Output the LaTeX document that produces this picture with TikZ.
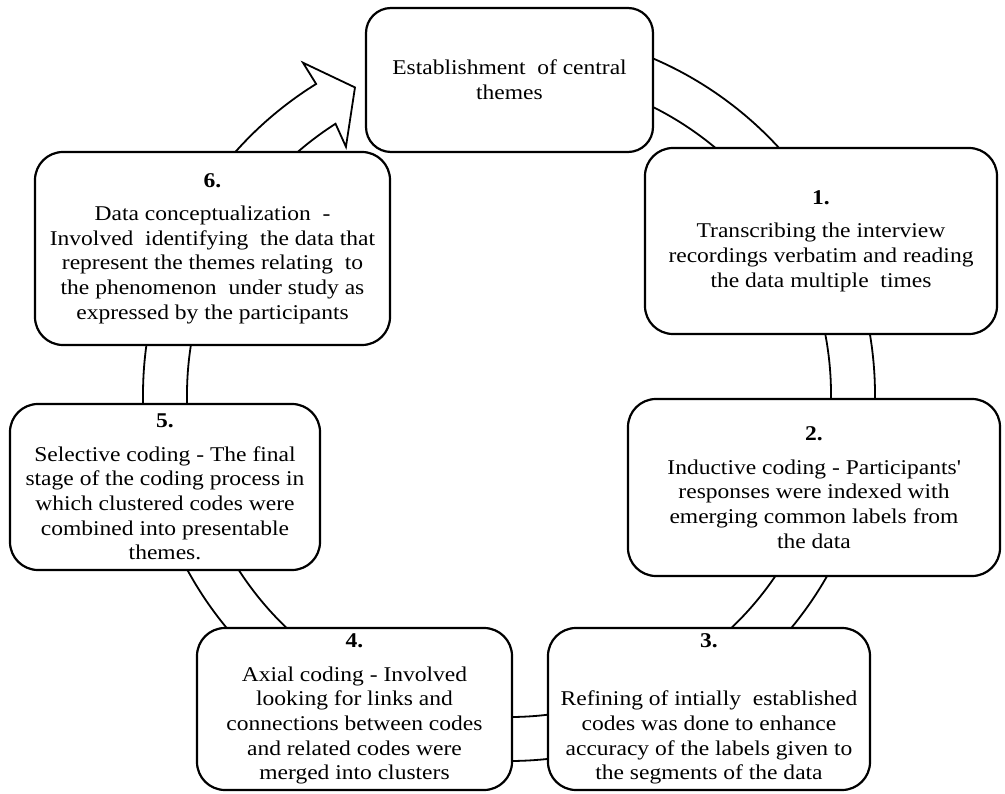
\documentclass[tikz,border=0pt]{standalone}
\usepackage{fontspec}
\setmainfont[FakeStretch=1.12]{Liberation Serif}
\usetikzlibrary{calc}
\begin{document}
\begin{tikzpicture}[x=1pt,y=1pt,
  font=\fontsize{21}{24.6}\selectfont,
  ring/.style={draw=black,fill=white,line width=1.8pt,line join=miter},
  stagebox/.style={draw=black,fill=white,line width=2.2pt,rounded corners=28pt,align=center,inner sep=4pt}]
\useasboundingbox (0,0) rectangle (1005,-794);
\coordinate (C) at (509,-395);
% circular arrow
\draw[ring] ($(C)+(95:366)$) arc[start angle=95,end angle=-238.2,radius=366]
  -- ($(C)+(-238.2:391)$) -- ($(C)+(-243.4:344)$) -- ($(C)+(-236.7:297)$)
  -- ($(C)+(-237.4:322)$) arc[start angle=-237.4,end angle=95,radius=322] -- cycle;
% boxes
\node[stagebox,rounded corners=25pt,minimum width=287pt,minimum height=144pt] (t) at (509.5,-80)
  {Establishment\ \ of central\\themes};
\node[stagebox,minimum width=352pt,minimum height=186pt] (b1) at (821,-241)
  {\textbf{1.}\\[9pt]Transcribing the interview\\recordings verbatim and reading\\the data multiple\ \ times};
\node[stagebox,minimum width=372pt,minimum height=177pt] (b2) at (814,-487.5)
  {\textbf{2.}\\[9pt]Inductive coding - Participants\textquotesingle\\responses were indexed with\\emerging common labels from\\the data};
\node[stagebox,minimum width=322pt,minimum height=162pt] (b3) at (709,-709)
  {\textbf{3.}\\[9pt]\mbox{}\\Refining of intially\ \ established\\codes was done to enhance\\accuracy of the labels given to\\the segments of the data};
\node[stagebox,minimum width=315pt,minimum height=162pt] (b4) at (354.5,-709)
  {\textbf{4.}\\[9pt]Axial coding - Involved\\looking for links and\\connections between codes\\and related codes were\\merged into clusters};
\node[stagebox,minimum width=310pt,minimum height=166pt] (b5) at (165,-487)
  {\textbf{5.}\\[9pt]Selective coding - The final\\stage of the coding process in\\which clustered codes were\\combined into presentable\\themes.};
\node[stagebox,minimum width=355pt,minimum height=193pt] (b6) at (212.5,-248.5)
  {\textbf{6.}\\[9pt]Data conceptualization\ \ -\\Involved\ \ identifying\ \ the data that\\represent the themes relating\ \ to\\the phenomenon\ \ under study as\\expressed by the participants};
\end{tikzpicture}
\end{document}
